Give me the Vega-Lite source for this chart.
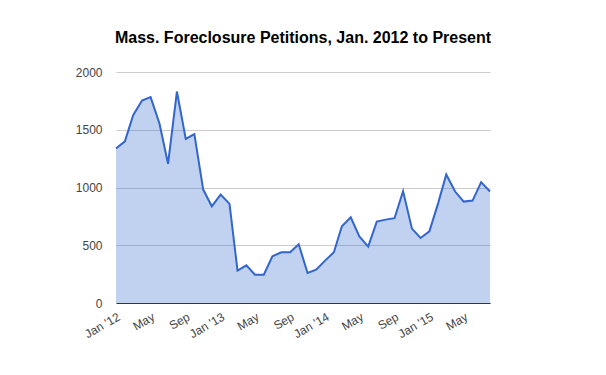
{
  "$schema": "https://vega.github.io/schema/vega-lite/v6.json",
  "width": 374,
  "height": 231,
  "autosize": {"type": "none"},
  "padding": {"left": 116, "top": 72, "right": 116, "bottom": 72},
  "background": "white",
  "title": {
    "text": "Mass. Foreclosure Petitions, Jan. 2012 to Present",
    "font": "Liberation Sans",
    "fontSize": 16,
    "fontWeight": "bold",
    "color": "#000000",
    "anchor": "middle",
    "offset": 20
  },
  "config": {
    "view": {"stroke": null},
    "axis": {"labelFont": "Liberation Sans", "labelFontSize": 12, "labelColor": "#444444"}
  },
  "data": {
    "values": [
      {"date": "2012-01-01", "petitions": 1337},
      {"date": "2012-02-01", "petitions": 1400},
      {"date": "2012-03-01", "petitions": 1626},
      {"date": "2012-04-01", "petitions": 1753},
      {"date": "2012-05-01", "petitions": 1782},
      {"date": "2012-06-01", "petitions": 1554},
      {"date": "2012-07-01", "petitions": 1205},
      {"date": "2012-08-01", "petitions": 1831},
      {"date": "2012-09-01", "petitions": 1421},
      {"date": "2012-10-01", "petitions": 1462},
      {"date": "2012-11-01", "petitions": 982},
      {"date": "2012-12-01", "petitions": 837},
      {"date": "2013-01-01", "petitions": 938},
      {"date": "2013-02-01", "petitions": 858},
      {"date": "2013-03-01", "petitions": 280},
      {"date": "2013-04-01", "petitions": 326},
      {"date": "2013-05-01", "petitions": 245},
      {"date": "2013-06-01", "petitions": 245},
      {"date": "2013-07-01", "petitions": 404},
      {"date": "2013-08-01", "petitions": 439},
      {"date": "2013-09-01", "petitions": 439},
      {"date": "2013-10-01", "petitions": 508},
      {"date": "2013-11-01", "petitions": 260},
      {"date": "2013-12-01", "petitions": 289},
      {"date": "2014-01-01", "petitions": 367},
      {"date": "2014-02-01", "petitions": 439},
      {"date": "2014-03-01", "petitions": 664},
      {"date": "2014-04-01", "petitions": 742},
      {"date": "2014-05-01", "petitions": 577},
      {"date": "2014-06-01", "petitions": 488},
      {"date": "2014-07-01", "petitions": 705},
      {"date": "2014-08-01", "petitions": 722},
      {"date": "2014-09-01", "petitions": 734},
      {"date": "2014-10-01", "petitions": 968},
      {"date": "2014-11-01", "petitions": 644},
      {"date": "2014-12-01", "petitions": 563},
      {"date": "2015-01-01", "petitions": 621},
      {"date": "2015-02-01", "petitions": 867},
      {"date": "2015-03-01", "petitions": 1112},
      {"date": "2015-04-01", "petitions": 965},
      {"date": "2015-05-01", "petitions": 878},
      {"date": "2015-06-01", "petitions": 887},
      {"date": "2015-07-01", "petitions": 1046},
      {"date": "2015-08-01", "petitions": 965}
    ]
  },
  "mark": {
    "type": "area",
    "color": "#3366cc",
    "fillOpacity": 0.3,
    "line": {"color": "#3366cc", "strokeWidth": 2}
  },
  "encoding": {
    "x": {
      "field": "date",
      "type": "temporal",
      "scale": {"type": "utc", "nice": false},
      "axis": {
        "title": null,
        "grid": false,
        "ticks": false,
        "domainColor": "#333333",
        "domainWidth": 1,
        "values": [
          {"year": 2012, "month": 1, "date": 1, "utc": true},
          {"year": 2012, "month": 5, "date": 1, "utc": true},
          {"year": 2012, "month": 9, "date": 1, "utc": true},
          {"year": 2013, "month": 1, "date": 1, "utc": true},
          {"year": 2013, "month": 5, "date": 1, "utc": true},
          {"year": 2013, "month": 9, "date": 1, "utc": true},
          {"year": 2014, "month": 1, "date": 1, "utc": true},
          {"year": 2014, "month": 5, "date": 1, "utc": true},
          {"year": 2014, "month": 9, "date": 1, "utc": true},
          {"year": 2015, "month": 1, "date": 1, "utc": true},
          {"year": 2015, "month": 5, "date": 1, "utc": true}
        ],
        "labelExpr": "utcFormat(datum.value, '%m') == '01' ? 'Jan \\'' + utcFormat(datum.value, '%y') : utcFormat(datum.value, '%b')",
        "labelAngle": -30,
        "labelAlign": "right",
        "labelBaseline": "top",
        "labelPadding": 8,
        "labelOverlap": false,
        "labelFlush": false
      }
    },
    "y": {
      "field": "petitions",
      "type": "quantitative",
      "scale": {"domain": [0, 2000], "nice": false},
      "axis": {
        "title": null,
        "format": "d",
        "values": [0, 500, 1000, 1500, 2000],
        "domain": false,
        "ticks": false,
        "gridColor": "#cccccc",
        "labelPadding": 14
      }
    }
  }
}
